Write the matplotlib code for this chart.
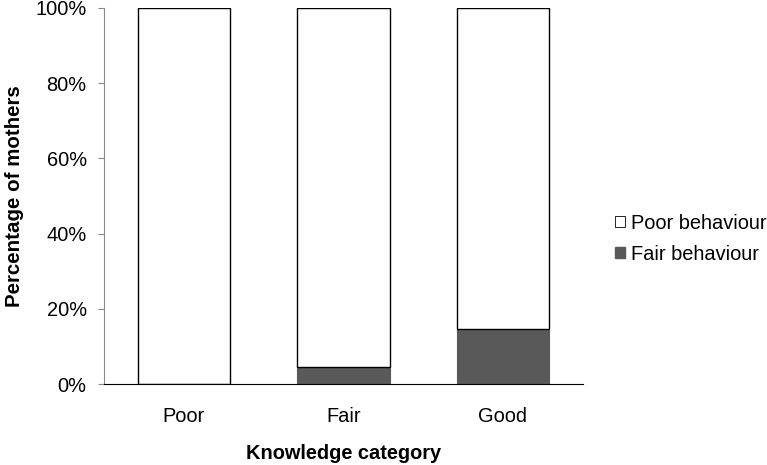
import matplotlib
matplotlib.use("Agg")
import matplotlib.pyplot as plt
from matplotlib.ticker import FuncFormatter
from matplotlib.patches import Patch

plt.rcParams['font.family'] = ['Liberation Sans', 'DejaVu Sans']

categories = ["Poor", "Fair", "Good"]
fair_behaviour = [0.0, 4.5, 14.6]
poor_behaviour = [100.0, 95.5, 85.4]

fig = plt.figure(figsize=(7.67, 4.65), dpi=100)
ax = fig.add_axes([0.1356, 0.174, 0.624, 0.809])

x = range(len(categories))
w = 0.58
ax.bar(x, fair_behaviour, width=w, color="#595959", edgecolor="#595959", linewidth=0.8)
ax.bar(x, poor_behaviour, width=w, bottom=fair_behaviour, color="white", edgecolor="black", linewidth=1.0)

ax.set_xlim(-0.5, 2.5)
ax.set_ylim(0, 100)
ax.set_yticks([0, 20, 40, 60, 80, 100])
ax.yaxis.set_major_formatter(FuncFormatter(lambda v, p: f"{int(v)}%"))
ax.set_xticks(list(x))
ax.set_xticklabels(categories)
ax.tick_params(axis='x', length=0, labelsize=14.4, pad=16.5)
ax.tick_params(axis='y', direction='out', length=4.5, color="#888888", labelsize=14.4, pad=8)

for s in ['top', 'right']:
    ax.spines[s].set_visible(False)
ax.spines['left'].set_color("#888888")
ax.spines['bottom'].set_color("black")

ax.set_xlabel("Knowledge category", fontsize=14.4, fontweight='bold', labelpad=13)
ax.set_ylabel("Percentage of mothers", fontsize=14.8, fontweight='bold', labelpad=8)

handles = [Patch(facecolor="white", edgecolor="black", linewidth=0.6, label="Poor behaviour"),
           Patch(facecolor="#595959", edgecolor="#595959", label="Fair behaviour")]
fig.legend(handles=handles, loc='center left', bbox_to_anchor=(0.802, 0.487), frameon=False,
           fontsize=14.4, handlelength=0.5, handleheight=0.5, handletextpad=0.3,
           labelspacing=0.6, borderpad=0, borderaxespad=0)

fig.savefig("out.png", dpi=100)
